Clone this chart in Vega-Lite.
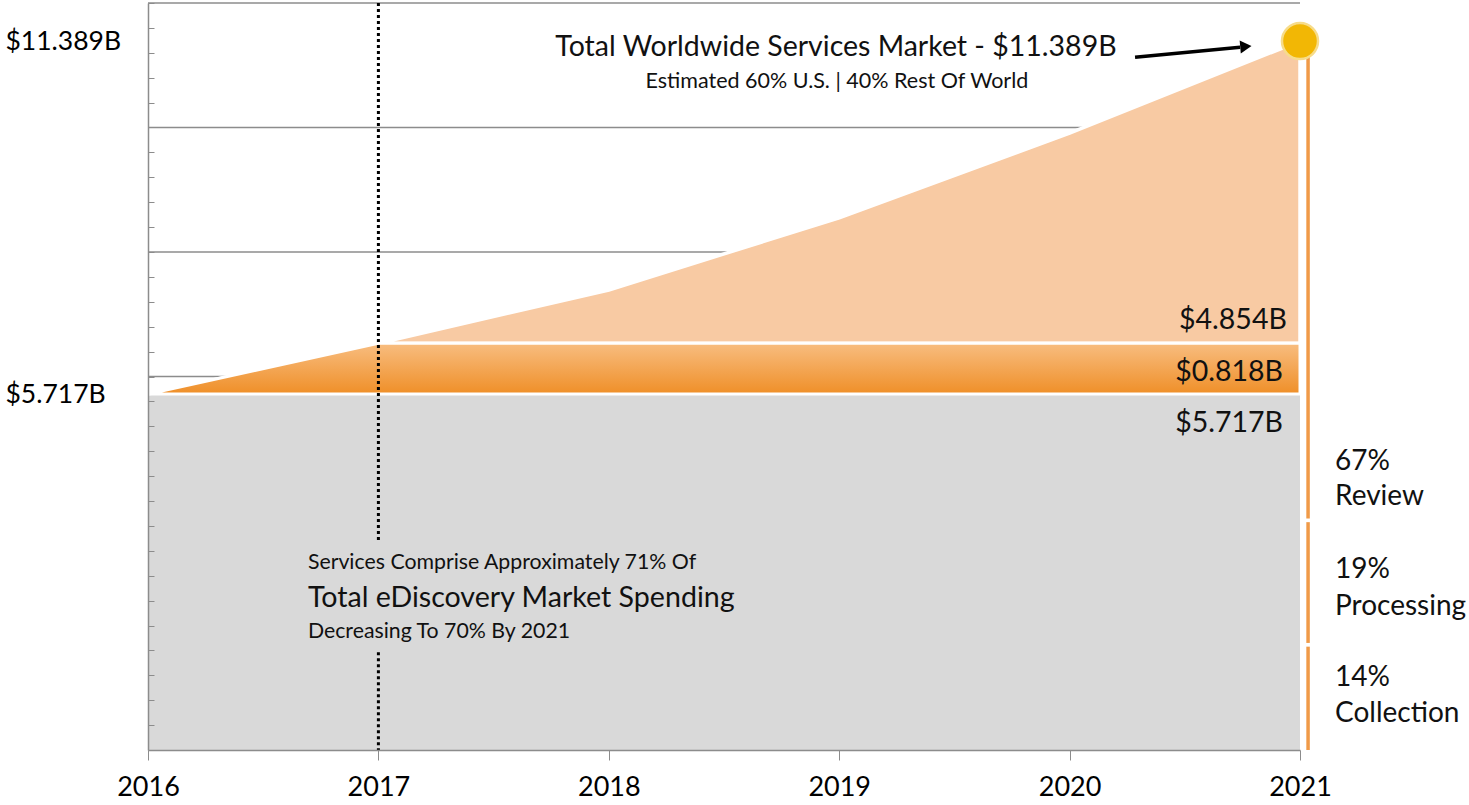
{
  "$schema": "https://vega.github.io/schema/vega-lite/v6.json",
  "width": 1152,
  "height": 747,
  "autosize": {"type": "none"},
  "padding": {"left": 148, "top": 3, "right": 169, "bottom": 55},
  "background": "white",
  "config": {
    "view": {"stroke": null},
    "font": "Lato",
    "axis": {"labelOverlap": false, "labelFlush": false},
    "text": {"font": "Lato", "color": "#111111", "baseline": "middle"}
  },
  "datasets": {
    "series": [
      {"year": 2016, "services": 5.717, "band_top": 5.717, "total": 5.717},
      {"year": 2017, "services": 5.717, "band_top": 6.535, "total": 6.535},
      {"year": 2018, "services": 5.717, "band_top": 6.535, "total": 7.39},
      {"year": 2019, "services": 5.717, "band_top": 6.535, "total": 8.55},
      {"year": 2020, "services": 5.717, "band_top": 6.535, "total": 9.91},
      {"year": 2021, "services": 5.717, "band_top": 6.535, "total": 11.389}
    ]
  },
  "layer": [
    {
      "data": {"values": [{"v": 2}, {"v": 4}, {"v": 6}, {"v": 8}, {"v": 10}, {"v": 12}]},
      "mark": {"type": "rule", "color": "#8c8c8c", "strokeWidth": 1.3},
      "encoding": {
        "y": {"field": "v", "type": "quantitative", "scale": {"domain": [0, 12], "nice": false, "zero": true}, "title": null,
          "axis": {
            "values": [0, 0.4, 0.8, 1.2, 1.6, 2, 2.4, 2.8, 3.2, 3.6, 4, 4.4, 4.8, 5.2, 5.6, 5.717, 6, 6.4, 6.8, 7.2, 7.6, 8, 8.4, 8.8, 9.2, 9.6, 10, 10.4, 10.8, 11.2, 11.389, 11.6, 12],
            "tickCount": 40,
            "labelExpr": "datum.value == 11.389 ? '$11.389B' : (datum.value == 5.717 ? '$5.717B' : '')",
            "title": null,
            "grid": false,
            "zindex": 1,
            "domainColor": "#8c8c8c",
            "domainWidth": 1.5,
            "tickColor": "#8c8c8c",
            "tickSize": -6,
            "tickWidth": 1,
            "tickOpacity": {"condition": {"test": "datum.value == 5.717 || datum.value == 11.389", "value": 0}, "value": 1},
            "labelAlign": "left",
            "labelBaseline": "middle",
            "labelPadding": 149,
            "labelFont": "Lato",
            "labelFontSize": 26.5,
            "labelColor": "#000000",
            "labelOverlap": false,
            "labelBound": false
          }
        }
      }
    },
    {
      "data": {"name": "series"},
      "mark": {"type": "area", "color": "#d9d9d9"},
      "encoding": {
        "x": {"field": "year", "type": "quantitative", "scale": {"domain": [2016, 2021], "nice": false, "zero": false}, "title": null,
          "axis": {
            "values": [2016, 2017, 2018, 2019, 2020, 2021],
            "tickCount": 10,
            "format": "d",
            "title": null,
            "grid": false,
            "zindex": 1,
            "domainColor": "#8c8c8c",
            "domainWidth": 1.5,
            "tickColor": "#8c8c8c",
            "tickSize": 10,
            "labelPadding": 14,
            "labelFont": "Lato",
            "labelFontSize": 27,
            "labelColor": "#000000",
            "labelFlush": false,
            "labelOverlap": false
          }
        },
        "y": {"field": "services", "type": "quantitative", "title": null}
      }
    },
    {
      "data": {"name": "series"},
      "mark": {"type": "area", "fill": "#f8caa3", "stroke": "white", "strokeWidth": 3.5},
      "encoding": {
        "x": {"field": "year", "type": "quantitative", "title": null},
        "y": {"field": "band_top", "type": "quantitative", "title": null},
        "y2": {"field": "total"}
      }
    },
    {
      "data": {"name": "series"},
      "mark": {"type": "area", "stroke": "white", "strokeWidth": 3,
        "fill": {"gradient": "linear", "x1": 0, "y1": 0, "x2": 0, "y2": 1,
          "stops": [{"offset": 0, "color": "#f8bd80"}, {"offset": 1, "color": "#ef8f28"}]}},
      "encoding": {
        "x": {"field": "year", "type": "quantitative", "title": null},
        "y": {"field": "services", "type": "quantitative", "title": null},
        "y2": {"field": "band_top"}
      }
    },
    {
      "data": {"values": [{"year": 2017, "from": 12, "to": 3.34}, {"year": 2017, "from": 1.57, "to": 0}]},
      "mark": {"type": "rule", "color": "#000000", "strokeWidth": 3, "strokeDash": [3, 3]},
      "encoding": {
        "x": {"field": "year", "type": "quantitative", "title": null},
        "y": {"field": "from", "type": "quantitative", "title": null},
        "y2": {"field": "to"}
      }
    },
    {
      "data": {"values": [{"pos": 2021.035, "from": 11.389, "to": 3.72}, {"pos": 2021.035, "from": 3.66, "to": 1.72}, {"pos": 2021.035, "from": 1.66, "to": 0}]},
      "mark": {"type": "rule", "color": "#f09a48", "strokeWidth": 3.5},
      "encoding": {
        "x": {"field": "pos", "type": "quantitative", "title": null},
        "y": {"field": "from", "type": "quantitative", "title": null},
        "y2": {"field": "to"}
      }
    },
    {
      "data": {"values": [{"x": 2020.284, "y": 11.13, "o": 1}, {"x": 2020.74, "y": 11.29, "o": 2}]},
      "mark": {"type": "line", "color": "#000000", "strokeWidth": 3.5},
      "encoding": {
        "x": {"field": "x", "type": "quantitative", "title": null},
        "y": {"field": "y", "type": "quantitative", "title": null},
        "order": {"field": "o"}
      }
    },
    {
      "data": {"values": [{"x": 2020.765, "y": 11.30}]},
      "mark": {"type": "point", "shape": "triangle-right", "filled": true, "color": "#000000", "size": 170, "angle": -5, "opacity": 1},
      "encoding": {
        "x": {"field": "x", "type": "quantitative", "title": null},
        "y": {"field": "y", "type": "quantitative", "title": null}
      }
    },
    {
      "data": {"name": "series"},
      "transform": [{"filter": "datum.year == 2021"}],
      "mark": {"type": "point", "shape": "circle", "filled": true, "fill": "#f2b705", "stroke": "#f7dc8a", "strokeWidth": 2.5, "size": 1300, "opacity": 1},
      "encoding": {
        "x": {"field": "year", "type": "quantitative", "title": null},
        "y": {"field": "total", "type": "quantitative", "title": null}
      }
    },
    {
      "data": {"values": [{"x": 2018.986, "y": 11.293, "label": "Total Worldwide Services Market - $11.389B"}]},
      "mark": {"type": "text", "fontSize": 28.5, "align": "center"},
      "encoding": {
        "x": {"field": "x", "type": "quantitative", "title": null},
        "y": {"field": "y", "type": "quantitative", "title": null},
        "text": {"field": "label"}
      }
    },
    {
      "data": {"values": [{"x": 2018.99, "y": 10.731, "label": "Estimated 60% U.S. | 40% Rest Of World"}]},
      "mark": {"type": "text", "fontSize": 21.5, "align": "center"},
      "encoding": {
        "x": {"field": "x", "type": "quantitative", "title": null},
        "y": {"field": "y", "type": "quantitative", "title": null},
        "text": {"field": "label"}
      }
    },
    {
      "data": {"values": [
        {"x": 2016.694, "y": 3.004, "label": "Services Comprise Approximately 71% Of"},
        {"x": 2016.694, "y": 1.896, "label": "Decreasing To 70% By 2021"}
      ]},
      "mark": {"type": "text", "fontSize": 21.3, "align": "left"},
      "encoding": {
        "x": {"field": "x", "type": "quantitative", "title": null},
        "y": {"field": "y", "type": "quantitative", "title": null},
        "text": {"field": "label"}
      }
    },
    {
      "data": {"values": [{"x": 2016.694, "y": 2.442, "label": "Total eDiscovery Market Spending"}]},
      "mark": {"type": "text", "fontSize": 28.6, "align": "left"},
      "encoding": {
        "x": {"field": "x", "type": "quantitative", "title": null},
        "y": {"field": "y", "type": "quantitative", "title": null},
        "text": {"field": "label"}
      }
    },
    {
      "data": {"values": [
        {"x": 2020.943, "y": 6.908, "label": "$4.854B"},
        {"x": 2020.926, "y": 6.072, "label": "$0.818B"},
        {"x": 2020.926, "y": 5.253, "label": "$5.717B"}
      ]},
      "mark": {"type": "text", "fontSize": 28.5, "align": "right"},
      "encoding": {
        "x": {"field": "x", "type": "quantitative", "title": null},
        "y": {"field": "y", "type": "quantitative", "title": null},
        "text": {"field": "label"}
      }
    },
    {
      "data": {"values": [
        {"x": 2021.152, "y": 4.627, "label": "67%"},
        {"x": 2021.152, "y": 4.064, "label": "Review"},
        {"x": 2021.152, "y": 2.892, "label": "19%"},
        {"x": 2021.152, "y": 2.297, "label": "Processing"},
        {"x": 2021.152, "y": 1.157, "label": "14%"},
        {"x": 2021.152, "y": 0.578, "label": "Collection"}
      ]},
      "mark": {"type": "text", "fontSize": 28, "align": "left"},
      "encoding": {
        "x": {"field": "x", "type": "quantitative", "title": null},
        "y": {"field": "y", "type": "quantitative", "title": null},
        "text": {"field": "label"}
      }
    }
  ]
}
